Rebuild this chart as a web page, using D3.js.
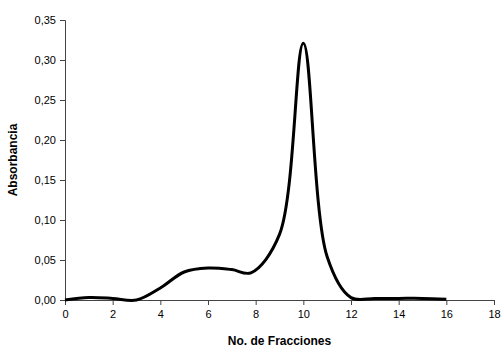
<!DOCTYPE html>
<html>
<head>
<meta charset="utf-8">
<script src="https://cdn.jsdelivr.net/npm/d3@7"></script>
<style>
  body { margin: 0; background: #fff; }
  text { font-family: "Liberation Sans", Arial, sans-serif; }
</style>
</head>
<body>
<script>
const svgWidth = 502,
    svgHeight = 352,
    margin = { top: 20, right: 8, bottom: 52, left: 65 },
    width = 494 - margin.left,
    height = 300 - margin.top;

// fractions and absorbance
const fractions = [0, 1, 2, 3, 4, 5, 6, 7, 7.8, 9, 10, 11, 12, 13, 14, 15, 16];
const absorbance = [0.000, 0.003, 0.002, 0.000, 0.015, 0.035, 0.040, 0.038, 0.034, 0.082, 0.321, 0.054, 0.003, 0.002, 0.002, 0.002, 0.001];
const xTicks = [0, 2, 4, 6, 8, 10, 12, 14, 16, 18];
const yTicks = [0, 0.05, 0.10, 0.15, 0.20, 0.25, 0.30, 0.35];

var svg = d3.select("body").append("svg")
    .attr("width", svgWidth)
    .attr("height", svgHeight)
    .append("g")
    .attr("transform", "translate(" + margin.left + ", " + margin.top + ")");

var x = d3.scaleLinear().domain([0, 18]).range([0, width]);
var y = d3.scaleLinear().domain([0, 0.35]).range([height, 0]);

var fmt = function (d) { return d3.format(".2f")(d).replace(".", ","); };

var yAxis = svg.append("g")
    .call(d3.axisLeft(y).tickValues(yTicks).tickFormat(fmt).tickSize(5).tickPadding(4));

var xAxis = svg.append("g")
    .attr("transform", "translate(0," + height + ")")
    .call(d3.axisBottom(x).tickValues(xTicks).tickFormat(d3.format("d")).tickSize(5).tickPadding(5));

[xAxis, yAxis].forEach(function (a) {
    a.select(".domain").attr("stroke", "#444");
    a.selectAll(".tick line").attr("stroke", "#444");
    a.selectAll(".tick text").attr("font-size", 11).attr("fill", "#000")
        .style("font-family", "'Liberation Sans', Arial, sans-serif");
});

var data = fractions.map(function (f, i) { return [f, absorbance[i]]; });

svg.append("path")
    .datum(data)
    .attr("fill", "none")
    .attr("stroke", "#000")
    .attr("stroke-width", 3)
    .attr("stroke-linejoin", "round")
    .attr("d", d3.line()
        .x(function (d) { return x(d[0]); })
        .y(function (d) { return y(d[1]); })
        .curve(d3.curveCatmullRom.alpha(0.5)));

svg.append("text")
    .attr("x", width / 2)
    .attr("y", height + 45)
    .attr("text-anchor", "middle")
    .attr("font-size", 12)
    .attr("font-weight", "bold")
    .text("No. de Fracciones");

svg.append("text")
    .attr("transform", "translate(" + (-48) + "," + (height / 2) + ") rotate(-90)")
    .attr("text-anchor", "middle")
    .attr("font-size", 12)
    .attr("font-weight", "bold")
    .text("Absorbancia");
</script>
</body>
</html>
